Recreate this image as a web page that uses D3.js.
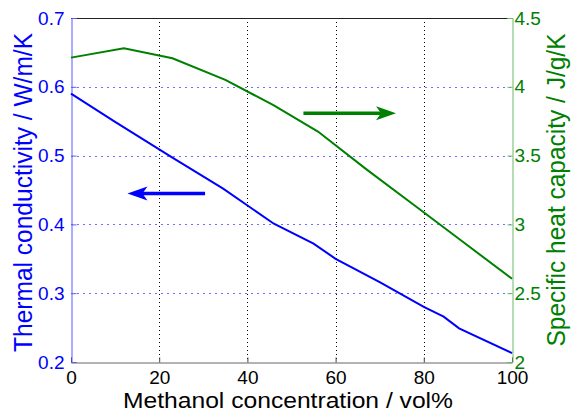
<!DOCTYPE html>
<html>
<head>
<meta charset="utf-8">
<script src="https://cdn.jsdelivr.net/npm/d3@7"></script>
<style>
  body { margin: 0; background: #fff; }
  svg { font-family: "Liberation Sans", Arial, sans-serif; }
</style>
</head>
<body>
<div class="chart"></div>
<script>
// thermal conductivity (left axis), W/m/K
var condX = [0, 10, 20, 23, 34.5, 46, 55, 60, 70, 80, 84.5, 88, 100];
var condY = [0.590, 0.549, 0.509, 0.497, 0.452, 0.401, 0.372, 0.350, 0.316, 0.280, 0.266, 0.249, 0.213];

// specific heat capacity (right axis), J/g/K
var heatX = [0, 12, 23, 35, 46, 56, 67, 78, 89, 100];
var heatY = [4.212, 4.28, 4.207, 4.05, 3.865, 3.675, 3.40, 3.135, 2.87, 2.605];

var xTicks = [0, 20, 40, 60, 80, 100];
var leftTicks = [0.2, 0.3, 0.4, 0.5, 0.6, 0.7];
var rightTicks = [2, 2.5, 3, 3.5, 4, 4.5];

var xTitle = 'Methanol concentration / vol%';
var leftTitle = 'Thermal conductivity / W/m/K';
var rightTitle = 'Specific heat capacity / J/g/K';

// arrows in data units: [x0, x1, y]
var leftArrow = [30.4, 12.8, 0.445];
var rightArrow = [52.7, 73.7, 3.807];

var blue = '#0000ff', green = '#008000';
var W = 571, H = 414;
var L = 71, R = 512, T = 18, B = 362;
var font = 'Liberation Sans, Arial, sans-serif';

var svg = d3.select('.chart')
  .append('svg')
    .attr('width', W)
    .attr('height', H);

var x = d3.scaleLinear().domain([0, 100]).range([L, R]);
var yL = d3.scaleLinear().domain([0.2, 0.7]).range([B, T]);
var yR = d3.scaleLinear().domain([2, 4.5]).range([B, T]);

// grid: vertical black dotted, horizontal blue dotted
svg.append('g')
  .selectAll('line')
  .data(xTicks.slice(1, -1))
  .enter().append('line')
    .attr('x1', d => Math.round(x(d)) + 0.5).attr('x2', d => Math.round(x(d)) + 0.5)
    .attr('y1', T).attr('y2', B)
    .attr('stroke', '#000')
    .attr('stroke-dasharray', '1,3');

svg.append('g')
  .selectAll('line')
  .data(leftTicks.slice(1, -1))
  .enter().append('line')
    .attr('x1', L).attr('x2', R)
    .attr('y1', d => Math.round(yL(d)) + 0.5).attr('y2', d => Math.round(yL(d)) + 0.5)
    .attr('stroke', '#6f6fff')
    .attr('stroke-dasharray', '2,4');

// top border
svg.append('line')
  .attr('x1', L).attr('x2', R).attr('y1', T + 0.5).attr('y2', T + 0.5)
  .attr('stroke', '#222');

// axes
var xAxis = svg.append('g')
  .attr('transform', 'translate(0,' + (B + 0.5) + ')')
  .call(d3.axisBottom(x).tickValues(xTicks).tickSize(-5).tickPadding(8).tickFormat(d3.format('d')));
xAxis.select('.domain').attr('stroke', '#666');
xAxis.selectAll('.tick line').attr('stroke', '#444');
xAxis.selectAll('text').attr('font-size', 19).attr('fill', '#000').attr('font-family', font);

var lAxis = svg.append('g')
  .attr('transform', 'translate(' + (L + 0.5) + ',0)')
  .call(d3.axisLeft(yL).tickValues(leftTicks).tickSize(-5).tickPadding(7).tickFormat(d3.format('.1f')));
lAxis.select('.domain').attr('stroke', '#5a5aff');
lAxis.selectAll('.tick line').attr('stroke', '#5a5aff');
lAxis.selectAll('text').attr('font-size', 19).attr('fill', blue).attr('font-family', font);

var rAxis = svg.append('g')
  .attr('transform', 'translate(' + (R + 0.5) + ',0)')
  .call(d3.axisRight(yR).tickValues(rightTicks).tickSize(-5).tickPadding(2).tickFormat(d3.format('')));
rAxis.select('.domain').attr('stroke', '#6ab86a');
rAxis.selectAll('.tick line').attr('stroke', '#6ab86a');
rAxis.selectAll('text').attr('font-size', 19).attr('fill', green).attr('font-family', font);

// lines
var condLine = d3.line().x((d, i) => x(condX[i])).y(d => yL(d));
var heatLine = d3.line().x((d, i) => x(heatX[i])).y(d => yR(d));

svg.append('path')
  .datum(heatY)
  .attr('d', heatLine)
  .attr('fill', 'none')
  .attr('stroke', green)
  .attr('stroke-width', 2);

svg.append('path')
  .datum(condY)
  .attr('d', condLine)
  .attr('fill', 'none')
  .attr('stroke', blue)
  .attr('stroke-width', 2);

// arrows
function arrow(a, ys, color) {
  var x0 = x(a[0]), x1 = x(a[1]), y = ys(a[2]);
  var dir = x1 > x0 ? 1 : -1;
  svg.append('line')
    .attr('x1', x0).attr('x2', x1 - dir * 10)
    .attr('y1', y).attr('y2', y)
    .attr('stroke', color).attr('stroke-width', 3.5);
  svg.append('path')
    .attr('d', 'M' + x1 + ',' + y +
      'L' + (x1 - dir * 20) + ',' + (y - 7) +
      'L' + (x1 - dir * 15) + ',' + y +
      'L' + (x1 - dir * 20) + ',' + (y + 7) + 'Z')
    .attr('fill', color);
}
arrow(leftArrow, yL, blue);
arrow(rightArrow, yR, green);

// titles (source picture is a little stretched sideways, so fit lengths)
svg.append('text')
  .attr('x', 288).attr('y', 408)
  .attr('text-anchor', 'middle')
  .attr('font-size', 22)
  .attr('textLength', 330)
  .attr('lengthAdjust', 'spacingAndGlyphs')
  .text(xTitle);

svg.append('text')
  .attr('transform', 'translate(32,192.5) scale(1.2,1) rotate(-90)')
  .attr('text-anchor', 'middle')
  .attr('font-size', 22)
  .attr('textLength', 319)
  .attr('lengthAdjust', 'spacingAndGlyphs')
  .attr('fill', blue)
  .text(leftTitle);

svg.append('text')
  .attr('transform', 'translate(565,190) scale(1.2,1) rotate(-90)')
  .attr('text-anchor', 'middle')
  .attr('font-size', 22)
  .attr('textLength', 313)
  .attr('lengthAdjust', 'spacingAndGlyphs')
  .attr('fill', green)
  .text(rightTitle);
</script>
</body>
</html>
